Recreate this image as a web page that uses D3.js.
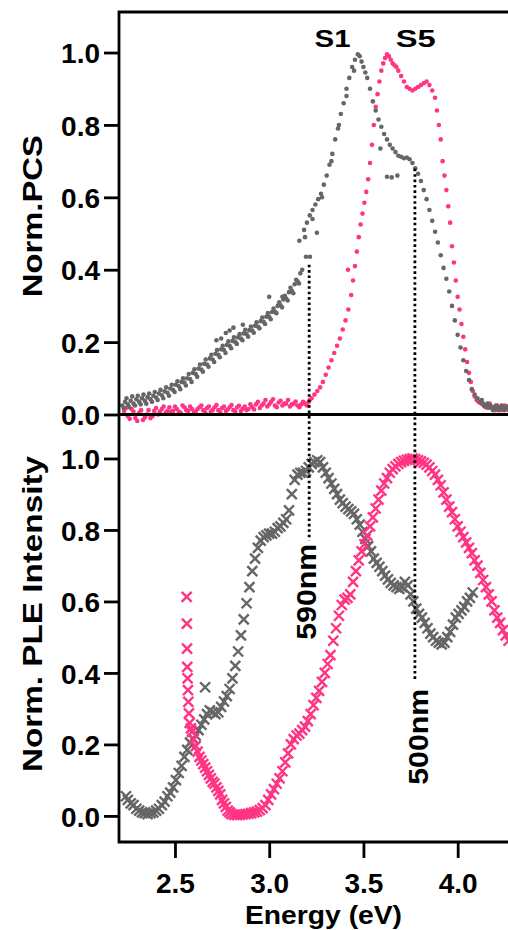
<!DOCTYPE html>
<html lang="en">
<head>
  <meta charset="UTF-8">
  <title>Norm. PCS / PLE</title>
  <style>
    body { margin: 0; background: #fff; }
    svg { display: block; }
    text { font-family: "Liberation Sans", Arial, sans-serif; font-weight: bold; fill: #000; }
  </style>
</head>
<body>
  <div id="chart"></div>
  <script src="https://cdn.jsdelivr.net/npm/d3@7/dist/d3.min.js"></script>
  <script>
    // tick values
    const xTicks = [2.5, 3.0, 3.5, 4.0];
    const yTicks = [0, 0.2, 0.4, 0.6, 0.8, 1.0];

    // photocurrent spectra (energy eV, normalized)
    const pcsS1 = [
      [2.22,0.025],[2.235,0.035],[2.25,0.028],[2.265,0.038],[2.28,0.03],[2.295,0.042],[2.31,0.035],[2.325,0.045],[2.34,0.038],[2.355,0.048],
      [2.37,0.042],[2.385,0.052],[2.40,0.047],[2.415,0.058],[2.43,0.053],[2.445,0.064],[2.46,0.06],[2.475,0.072],[2.49,0.068],[2.505,0.082],
      [2.52,0.078],[2.535,0.09],[2.55,0.088],[2.565,0.1],[2.58,0.098],[2.595,0.115],[2.61,0.112],[2.625,0.127],[2.64,0.124],[2.655,0.14],
      [2.67,0.138],[2.685,0.155],[2.70,0.152],[2.715,0.168],[2.73,0.165],[2.745,0.18],[2.76,0.178],[2.775,0.192],[2.79,0.19],[2.805,0.203],
      [2.82,0.2],[2.835,0.213],[2.85,0.21],[2.865,0.224],[2.88,0.222],[2.895,0.233],[2.91,0.232],[2.925,0.245],[2.94,0.243],[2.955,0.258],
      [2.97,0.256],[2.985,0.27],[3.00,0.27],[3.015,0.283],[3.03,0.284],[3.045,0.3],[3.06,0.302],[3.075,0.318],[3.09,0.32],[3.105,0.338],
      [3.12,0.342],[3.135,0.36],[3.15,0.368],[3.165,0.39],[3.175,0.40],
      [2.228,0.018],[2.243,0.045],[2.258,0.02],[2.273,0.05],[2.288,0.025],[2.303,0.052],[2.318,0.028],[2.333,0.055],[2.348,0.03],[2.363,0.058],
      [2.378,0.035],[2.393,0.062],[2.408,0.04],[2.423,0.068],[2.438,0.045],[2.453,0.075],[2.468,0.052],[2.483,0.082],[2.498,0.062],[2.513,0.092],
      [2.528,0.07],[2.543,0.1],[2.558,0.08],[2.573,0.112],[2.588,0.09],[2.603,0.125],[2.618,0.104],[2.633,0.138],[2.648,0.118],[2.663,0.152],
      [2.678,0.132],[2.693,0.165],[2.708,0.145],[2.723,0.178],[2.738,0.158],[2.753,0.19],[2.768,0.17],[2.783,0.202],[2.798,0.183],[2.813,0.213],
      [2.828,0.195],[2.843,0.222],[2.858,0.205],[2.873,0.234],[2.888,0.215],[2.903,0.243],[2.918,0.226],[2.933,0.255],[2.948,0.238],[2.963,0.268],
      [2.978,0.25],[2.993,0.28],[3.008,0.263],[3.023,0.293],[3.038,0.28],[3.053,0.31],[3.068,0.296],[3.083,0.328],[3.098,0.315],[3.113,0.35],
      [3.128,0.335],[3.143,0.372],[3.158,0.362],
      [2.72,0.205],[2.745,0.21],[2.77,0.225],[2.79,0.232],[2.81,0.24],[2.86,0.248],[3.0,0.325],[3.07,0.325],
      [3.195,0.436],[3.216,0.436],
      [3.16,0.48],[3.185,0.51],[3.2,0.53],[3.215,0.55],[3.23,0.565],[3.245,0.58],[3.26,0.595],[3.275,0.61],[3.29,0.635],[3.305,0.66],
      [3.32,0.69],[3.335,0.72],[3.35,0.76],[3.365,0.79],[3.38,0.83],[3.395,0.86],[3.41,0.9],[3.425,0.93],[3.44,0.96],[3.455,0.98],
      [3.47,0.995],[3.48,0.99],
      [3.19,0.49],[3.23,0.54],[3.253,0.502],[3.28,0.60],[3.33,0.70],[3.37,0.80],[3.41,0.88],[3.45,0.95],
      [3.49,0.975],[3.5,0.96],[3.51,0.945],[3.52,0.93],[3.535,0.9],[3.55,0.865],[3.565,0.84],[3.58,0.815],[3.595,0.795],[3.61,0.775],
      [3.625,0.76],[3.64,0.745],[3.655,0.735],[3.67,0.725],[3.685,0.715],[3.70,0.712],[3.715,0.708],[3.73,0.71],[3.745,0.705],[3.76,0.695],
      [3.775,0.68],[3.79,0.665],[3.805,0.645],[3.82,0.62],[3.835,0.595],[3.85,0.565],[3.865,0.535],[3.88,0.505],[3.895,0.475],[3.91,0.44],
      [3.925,0.405],[3.94,0.375],[3.955,0.34],[3.97,0.3],[3.985,0.26],[4.0,0.22],[4.015,0.185],[4.03,0.15],[4.045,0.12],[4.06,0.095],
      [4.075,0.07],[4.09,0.055],[4.105,0.045],[4.12,0.035],[4.135,0.03],[4.15,0.025],[4.165,0.02],[4.18,0.018],[4.195,0.02],[4.21,0.015],
      [4.225,0.02],[4.24,0.018],[4.255,0.02],[4.27,0.015],
      [4.128,0.04],[4.143,0.022],[4.158,0.03],[4.173,0.025],[4.188,0.012],[4.203,0.025],[4.218,0.012],[4.233,0.025],[4.248,0.012],[4.263,0.022],
      [3.59,0.735],[3.625,0.657],[3.65,0.655],[3.68,0.66]
    ];

    const pcsS5 = [
      [2.23,0.01],[2.25,-0.005],[2.27,0.015],[2.29,-0.01],[2.31,0.005],[2.33,-0.015],[2.35,0.0],[2.37,-0.01],[2.39,0.01],[2.41,0.0],
      [2.43,0.015],[2.45,0.005],[2.47,0.02],[2.49,0.01],[2.51,0.015],[2.53,0.005],[2.55,0.02],[2.57,0.01],[2.59,0.015],[2.61,0.008],
      [2.63,0.02],[2.65,0.012],[2.67,0.018],[2.69,0.008],[2.71,0.02],[2.73,0.012],[2.75,0.018],[2.77,0.01],[2.79,0.02],[2.81,0.012],
      [2.83,0.02],[2.85,0.01],[2.87,0.022],[2.89,0.015],[2.91,0.02],[2.93,0.028],[2.95,0.018],[2.97,0.03],[2.99,0.022],[3.01,0.035],
      [3.03,0.025],[3.05,0.033],[3.07,0.025],[3.09,0.03],[3.11,0.022],[3.13,0.03],[3.15,0.025],[3.17,0.028],[3.19,0.03],[3.21,0.035],
      [2.24,0.018],[2.26,-0.012],[2.28,0.008],[2.30,-0.018],[2.32,0.012],[2.34,-0.008],[2.36,0.012],[2.38,-0.005],[2.40,0.018],[2.42,0.008],
      [2.44,0.022],[2.46,0.01],[2.48,0.008],[2.50,0.022],[2.52,0.008],[2.54,0.025],[2.56,0.012],[2.58,0.022],[2.60,0.005],[2.62,0.015],
      [2.64,0.025],[2.66,0.006],[2.68,0.022],[2.70,0.012],[2.72,0.026],[2.74,0.006],[2.76,0.022],[2.78,0.014],[2.80,0.026],[2.82,0.008],
      [2.84,0.024],[2.86,0.016],[2.88,0.012],[2.90,0.028],[2.92,0.014],[2.94,0.035],[2.96,0.025],[2.98,0.04],[3.00,0.028],[3.02,0.042],
      [3.04,0.02],[3.06,0.038],[3.08,0.03],[3.10,0.04],[3.12,0.028],[3.14,0.036],[3.16,0.02],[3.18,0.035],[3.20,0.025],[3.215,0.04],
      [3.225,0.045],[3.24,0.055],[3.255,0.065],[3.27,0.075],[3.285,0.09],[3.3,0.11],[3.315,0.13],[3.33,0.15],[3.345,0.17],[3.36,0.19],
      [3.375,0.21],[3.39,0.235],[3.405,0.26],[3.42,0.29],[3.435,0.33],[3.445,0.37],[3.455,0.41],[3.465,0.45],[3.475,0.49],[3.485,0.525],
      [3.495,0.555],[3.505,0.585],[3.515,0.615],[3.525,0.65],[3.535,0.695],[3.545,0.745],[3.555,0.8],[3.565,0.85],[3.575,0.885],[3.585,0.92],
      [3.595,0.95],[3.605,0.97],[3.615,0.985],[3.625,0.995],[3.635,0.99],[3.645,0.98],[3.655,0.97],[3.665,0.965],[3.675,0.96],[3.685,0.95],
      [3.7,0.935],[3.715,0.92],[3.73,0.905],[3.745,0.9],[3.76,0.895],[3.775,0.9],[3.79,0.905],[3.805,0.91],[3.82,0.915],[3.835,0.92],
      [3.85,0.91],[3.865,0.895],[3.88,0.875],[3.89,0.84],[3.9,0.8],[3.91,0.76],[3.92,0.70],[3.93,0.66],[3.94,0.62],[3.95,0.575],
      [3.96,0.53],[3.97,0.465],[3.98,0.42],[3.99,0.37],[4.0,0.325],[4.01,0.29],[4.02,0.25],[4.03,0.215],[4.04,0.18],[4.05,0.145],
      [4.06,0.115],[4.07,0.09],[4.08,0.065],[4.09,0.05],[4.1,0.04],[4.12,0.032],[4.14,0.025],[4.16,0.018],[4.18,0.022],[4.2,0.012],
      [4.22,0.02],[4.24,0.015],[4.26,0.02],
      [4.11,0.035],[4.13,0.028],[4.15,0.02],[4.17,0.03],[4.19,0.015],[4.21,0.025],[4.23,0.012],[4.25,0.025],[4.27,0.012],
      [3.418,0.40]
    ];

    // PLE spectra
    const pleS1 = [
      [2.24,0.055],[2.25,0.045],[2.265,0.035],[2.28,0.03],[2.295,0.02],[2.31,0.015],[2.325,0.01],[2.34,0.008],[2.355,0.005],[2.37,0.008],
      [2.385,0.01],[2.40,0.015],[2.415,0.02],[2.43,0.03],[2.445,0.04],[2.46,0.055],[2.475,0.065],[2.49,0.08],[2.505,0.1],[2.52,0.12],
      [2.535,0.14],[2.55,0.165],[2.565,0.185],[2.58,0.205],[2.595,0.215],[2.61,0.225],[2.625,0.24],[2.64,0.255],[2.655,0.27],[2.67,0.285],
      [2.685,0.295],[2.70,0.29],[2.715,0.285],[2.73,0.29],[2.745,0.305],[2.76,0.32],[2.775,0.335],[2.79,0.355],[2.805,0.385],[2.82,0.42],
      [2.835,0.46],[2.85,0.505],[2.865,0.55],[2.88,0.595],[2.895,0.64],[2.91,0.685],[2.925,0.72],[2.94,0.75],[2.955,0.77],[2.97,0.78],
      [2.985,0.785],[3.0,0.79],[3.015,0.79],[3.03,0.795],[3.045,0.805],[3.06,0.81],[3.075,0.82],[3.09,0.83],[3.105,0.855],[3.12,0.9],
      [3.135,0.94],[3.15,0.955],[3.165,0.96],[3.18,0.96],[3.195,0.965],[3.21,0.975],[3.225,0.985],[3.24,0.99],[3.255,0.995],[3.27,0.99],
      [3.285,0.975],[3.30,0.96],[3.315,0.945],[3.33,0.93],[3.345,0.915],[3.36,0.9],[3.375,0.885],[3.39,0.875],[3.405,0.865],[3.42,0.858],
      [3.435,0.852],[3.45,0.845],[3.465,0.83],[3.48,0.815],[3.495,0.795],[3.51,0.775],[3.525,0.755],[3.54,0.74],[3.555,0.72],[3.57,0.708],
      [3.585,0.697],[3.6,0.685],[3.615,0.672],[3.63,0.662],[3.645,0.652],[3.66,0.645],[3.675,0.64],[3.69,0.635],[3.705,0.64],[3.72,0.655],
      [3.735,0.645],[3.75,0.62],[3.765,0.6],[3.78,0.58],[3.795,0.565],[3.81,0.555],[3.825,0.54],[3.84,0.525],[3.855,0.51],[3.87,0.5],
      [3.885,0.49],[3.9,0.485],[3.915,0.48],[3.93,0.485],[3.945,0.5],[3.96,0.515],[3.975,0.535],[3.99,0.555],[4.005,0.565],[4.02,0.575],
      [4.035,0.585],[4.05,0.6],[4.065,0.61],[4.08,0.625],
      [2.66,0.36]
    ];

    const pleS5 = [
      [2.562,0.613],[2.563,0.538],[2.564,0.468],[2.565,0.417],[2.567,0.385],[2.569,0.352],[2.571,0.319],[2.574,0.287],
      [2.578,0.26],[2.585,0.245],[2.59,0.235],[2.6,0.215],[2.61,0.195],[2.62,0.18],[2.63,0.165],[2.64,0.155],[2.65,0.145],[2.66,0.135],
      [2.67,0.125],[2.68,0.115],[2.69,0.105],[2.70,0.095],[2.71,0.09],[2.72,0.08],[2.73,0.07],[2.74,0.06],[2.75,0.045],[2.76,0.035],
      [2.77,0.025],[2.78,0.015],[2.79,0.01],[2.80,0.005],[2.815,0.003],[2.83,0.002],[2.845,0.003],[2.86,0.004],[2.875,0.005],[2.89,0.006],
      [2.905,0.008],[2.92,0.01],[2.935,0.012],[2.95,0.016],[2.965,0.022],[2.98,0.03],[2.995,0.045],[3.01,0.06],[3.025,0.075],[3.04,0.09],
      [3.055,0.105],[3.07,0.125],[3.085,0.15],[3.1,0.175],[3.115,0.2],[3.13,0.215],[3.145,0.225],[3.16,0.23],[3.175,0.24],[3.19,0.25],
      [3.205,0.265],[3.22,0.285],[3.235,0.31],[3.25,0.33],[3.265,0.35],[3.28,0.375],[3.295,0.4],[3.31,0.425],[3.325,0.45],[3.34,0.49],
      [3.355,0.525],[3.37,0.56],[3.385,0.59],[3.4,0.605],[3.415,0.61],[3.43,0.62],[3.445,0.655],[3.46,0.685],[3.475,0.715],[3.49,0.74],
      [3.505,0.76],[3.52,0.785],[3.535,0.81],[3.55,0.835],[3.565,0.86],[3.58,0.885],[3.595,0.91],[3.61,0.93],[3.625,0.945],[3.64,0.96],
      [3.655,0.97],[3.67,0.978],[3.685,0.985],[3.7,0.99],[3.715,0.993],[3.73,0.996],[3.745,0.998],[3.76,1.0],[3.775,0.998],[3.79,0.995],
      [3.805,0.992],[3.82,0.988],[3.835,0.983],[3.85,0.975],[3.865,0.965],[3.88,0.955],[3.895,0.94],[3.91,0.925],[3.925,0.905],[3.94,0.885],
      [3.955,0.865],[3.97,0.85],[3.985,0.83],[4.0,0.81],[4.015,0.795],[4.03,0.78],[4.045,0.765],[4.06,0.75],[4.075,0.735],[4.09,0.715],
      [4.105,0.7],[4.12,0.68],[4.135,0.66],[4.15,0.64],[4.165,0.62],[4.18,0.6],[4.195,0.575],[4.21,0.555],[4.225,0.54],[4.24,0.52],
      [4.255,0.505],[4.27,0.49]
    ];

    const sampleNames = ['S1', 'S5'];
    const sampleLabelEnergy = [3.336, 3.777];
    const markEnergy = [3.212, 3.773];
    const markNames = ['590nm', '500nm'];

    const grey = '#666666';
    const pink = '#ff3584';

    const width = 508, height = 930;
    const plotLeft = 119, plotRight = 508, plotTop = 12, plotMid = 414.5, plotBottom = 842;

    const x = d3.scaleLinear().domain([2.203, 4.267]).range([plotLeft, plotRight]);
    const yTop = d3.scaleLinear().domain([0, 1.112]).range([plotMid, plotTop]);
    const yBot = d3.scaleLinear().domain([-0.073, 1.123]).range([plotBottom, plotMid]);

    const svg = d3.select('#chart').append('svg')
      .attr('width', width)
      .attr('height', height);

    svg.append('defs').append('clipPath').attr('id', 'plot')
      .append('rect')
      .attr('x', plotLeft).attr('y', plotTop)
      .attr('width', plotRight - plotLeft + 5).attr('height', plotBottom - plotTop);

    function drawDots(data, y, color) {
      svg.append('g').attr('clip-path', 'url(#plot)')
        .selectAll('circle')
        .data(data)
        .join('circle')
        .attr('cx', d => x(d[0]))
        .attr('cy', d => y(d[1]))
        .attr('r', 2.3)
        .attr('fill', color);
    }

    function drawCrosses(data, y, color) {
      const s = 5;
      svg.append('g').attr('clip-path', 'url(#plot)')
        .selectAll('path')
        .data(data)
        .join('path')
        .attr('d', d => {
          const cx = x(d[0]), cy = y(d[1]);
          return `M${cx - s},${cy - s}L${cx + s},${cy + s}M${cx - s},${cy + s}L${cx + s},${cy - s}`;
        })
        .attr('fill', 'none')
        .attr('stroke', color)
        .attr('stroke-width', 2.4);
    }

    drawDots(pcsS5, yTop, pink);
    drawDots(pcsS1, yTop, grey);
    drawCrosses(pleS1, yBot, grey);
    drawCrosses(pleS5, yBot, pink);

    // dotted guide lines + wavelength labels
    const guideTop = [0.414, 0.679];
    const guideEnd = [0.771, 0.38];
    const textAt = [0.627, 0.2215];
    const textShift = [7, 13];
    markEnergy.forEach((e, i) => {
      svg.append('line')
        .attr('x1', x(e)).attr('x2', x(e))
        .attr('y1', yTop(guideTop[i]))
        .attr('y2', yBot(guideEnd[i]))
        .attr('stroke', '#000')
        .attr('stroke-width', 2.8)
        .attr('stroke-dasharray', '2.6,2.8');
      svg.append('text')
        .attr('transform', `translate(${x(e) + textShift[i]},${yBot(textAt[i])}) rotate(-90)`)
        .attr('text-anchor', 'middle')
        .attr('font-size', 28)
        .attr('textLength', 96)
        .attr('lengthAdjust', 'spacingAndGlyphs')
        .text(markNames[i]);
    });

    sampleNames.forEach((n, i) => {
      svg.append('text')
        .attr('x', x(sampleLabelEnergy[i]))
        .attr('y', 47)
        .attr('text-anchor', 'middle')
        .attr('font-size', 24)
        .attr('textLength', i ? 40 : 36)
        .attr('lengthAdjust', 'spacingAndGlyphs')
        .text(n);
    });

    // axes
    const fmt = d3.format('.1f');
    function styleAxis(g) {
      g.select('.domain').remove();
      g.selectAll('.tick line').attr('stroke', '#000').attr('stroke-width', 2.8);
      g.selectAll('.tick text')
        .attr('font-size', 28)
        .attr('font-family', '"Liberation Sans", Arial, sans-serif')
        .attr('font-weight', 'bold')
        .attr('fill', '#000');
    }

    svg.append('g')
      .attr('transform', `translate(${plotLeft},0)`)
      .call(d3.axisLeft(yTop).tickValues(yTicks).tickSize(15).tickPadding(4).tickFormat(fmt))
      .call(styleAxis)
      .selectAll('.tick text').attr('dy', '0.36em');

    svg.append('g')
      .attr('transform', `translate(${plotLeft},0)`)
      .call(d3.axisLeft(yBot).tickValues(yTicks).tickSize(15).tickPadding(4).tickFormat(fmt))
      .call(styleAxis)
      .selectAll('.tick text').attr('dy', '0.36em');

    svg.append('g')
      .attr('transform', `translate(0,${plotBottom})`)
      .call(d3.axisBottom(x).tickValues(xTicks).tickSize(16).tickPadding(15).tickFormat(fmt))
      .call(styleAxis);

    // frame
    svg.append('path')
      .attr('d', `M${plotRight + 4},${plotTop}H${plotLeft}V${plotBottom}H${plotRight + 4}M${plotLeft},${plotMid}H${plotRight + 4}`)
      .attr('fill', 'none')
      .attr('stroke', '#000')
      .attr('stroke-width', 2.8);

    // axis titles
    svg.append('text')
      .attr('transform', `translate(42,${(plotTop + plotMid) / 2 + 3}) rotate(-90)`)
      .attr('text-anchor', 'middle')
      .attr('font-size', 28)
      .attr('textLength', 162)
      .attr('lengthAdjust', 'spacingAndGlyphs')
      .text('Norm.PCS');

    svg.append('text')
      .attr('transform', `translate(42,614) rotate(-90)`)
      .attr('text-anchor', 'middle')
      .attr('font-size', 28)
      .attr('textLength', 316)
      .attr('lengthAdjust', 'spacingAndGlyphs')
      .text('Norm. PLE Intensity');

    svg.append('text')
      .attr('x', 323.5)
      .attr('y', 924)
      .attr('text-anchor', 'middle')
      .attr('font-size', 26.5)
      .attr('textLength', 157)
      .attr('lengthAdjust', 'spacingAndGlyphs')
      .text('Energy (eV)');
  </script>
</body>
</html>
